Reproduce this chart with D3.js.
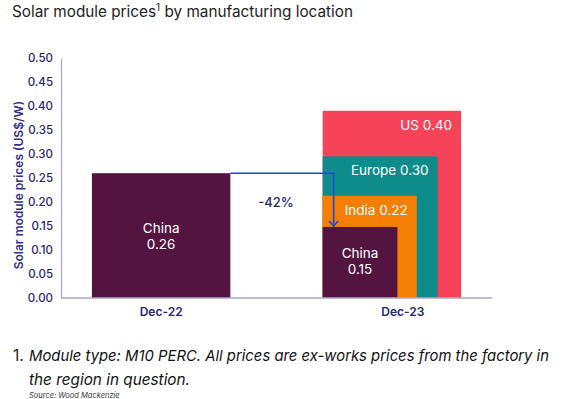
<!DOCTYPE html>
<html><head><meta charset="utf-8">
<script src="https://cdn.jsdelivr.net/npm/d3@7"></script>
<style>
body{margin:0;background:#fff;}
svg{display:block;font-family:Inter, "Open Sans", sans-serif;}
</style></head>
<body><svg id="c" width="562" height="399"></svg>
<script>
const periods = ["Dec-22", "Dec-23"];
const dec22Regions = ["China"];
const dec22Values = [0.26];
const dec22Labels = ["0.26"];
const dec23Regions = ["US", "Europe", "India", "China"];
const dec23Values = [0.39, 0.295, 0.213, 0.148];
const dec23Labels = ["0.40", "0.30", "0.22", "0.15"];
const widthFractions = [1, 0.83, 0.68, 0.54];
const yTicks = [0, 0.05, 0.1, 0.15, 0.2, 0.25, 0.3, 0.35, 0.4, 0.45, 0.5];
const changeLabel = "-42%";
const colors = {China: "#541440", US: "#f7435a", Europe: "#0e8c8c", India: "#f57f05"};

const svg = d3.select("#c");
const navy = "#262673";
const x = d3.scaleBand().domain(periods).range([61, 492]).paddingInner(0.4).paddingOuter(0.134);
const y = d3.scaleLinear().domain([0, 0.5]).range([298, 58]);

// title
const t = svg.append("text").attr("x", 12).attr("y", 17).attr("font-size", 15.3).attr("fill", "#222");
t.append("tspan").text("Solar module prices");
t.append("tspan").text("1").attr("font-size", 10).attr("dy", -6);
t.append("tspan").text(" by manufacturing location").attr("dy", 6);

// y axis
const ya = svg.append("g").attr("transform", "translate(61,0)")
  .call(d3.axisLeft(y).tickValues(yTicks).tickFormat(d3.format(".2f")).tickSize(0).tickPadding(8));
ya.select(".domain").attr("stroke", "#a8a6cc").attr("stroke-width", 1.3);
ya.selectAll("text").attr("font-size", 11.5).attr("font-weight", 500).attr("fill", navy).attr("font-family", "Inter, sans-serif");

svg.append("text").attr("transform", "translate(23,185) rotate(-90)").attr("text-anchor", "middle")
  .attr("font-size", 12).attr("font-weight", 600).attr("fill", "#30308a").text("Solar module prices  (US$/W)");

// bars Dec-22
const bw = x.bandwidth();
dec22Regions.forEach((r, i) => {
  svg.append("rect").attr("x", x("Dec-22")).attr("width", bw)
    .attr("y", y(dec22Values[i])).attr("height", y(0) - y(dec22Values[i])).attr("fill", colors[r]);
  const cx = x("Dec-22") + bw / 2;
  svg.append("text").attr("x", cx).attr("y", 233).attr("text-anchor", "middle").attr("fill", "#fff").attr("font-size", 13.5).text(r);
  svg.append("text").attr("x", cx).attr("y", 249).attr("text-anchor", "middle").attr("fill", "#fff").attr("font-size", 13.5).text(dec22Labels[i]);
});

// bars Dec-23
dec23Regions.forEach((r, i) => {
  svg.append("rect").attr("x", x("Dec-23")).attr("width", bw * widthFractions[i])
    .attr("y", y(dec23Values[i])).attr("height", y(0) - y(dec23Values[i])).attr("fill", colors[r]);
});
dec23Regions.forEach((r, i) => {
  const x0 = x("Dec-23"), w = bw * widthFractions[i];
  if (r === "China") {
    const cx = x0 + w / 2;
    svg.append("text").attr("x", cx).attr("y", 258).attr("text-anchor", "middle").attr("fill", "#fff").attr("font-size", 13.5).text(r);
    svg.append("text").attr("x", cx).attr("y", 274).attr("text-anchor", "middle").attr("fill", "#fff").attr("font-size", 13.5).text(dec23Labels[i]);
  } else {
    svg.append("text").attr("x", x0 + w - 9).attr("y", y(dec23Values[i]) + 19).attr("text-anchor", "end")
      .attr("fill", "#fff").attr("font-size", 13.5).text(r + " " + dec23Labels[i]);
  }
});

// baseline
svg.append("line").attr("x1", 61).attr("x2", 492).attr("y1", y(0)).attr("y2", y(0)).attr("stroke", "#a8a6cc").attr("stroke-width", 1.3);

// x labels
svg.append("text").attr("x", x("Dec-22") + bw / 2).attr("y", 316).attr("text-anchor", "middle")
  .attr("font-size", 12).attr("font-weight", 600).attr("fill", navy).text(periods[0]);
svg.append("text").attr("x", x("Dec-23") + bw / 2 + 11).attr("y", 316).attr("text-anchor", "middle")
  .attr("font-size", 12).attr("font-weight", 600).attr("fill", navy).text(periods[1]);

// arrow
const ax = x("Dec-23") + 11;
const ay0 = y(dec22Values[0]), ay1 = y(dec23Values[3]);
svg.append("path").attr("d", `M${x("Dec-22") + bw},${ay0}H${ax}V${ay1 - 1}`).attr("fill", "none").attr("stroke", "#1f47e0").attr("stroke-width", 1.6);
svg.append("path").attr("d", `M${ax - 4.5},${ay1 - 6}L${ax},${ay1 - 1}L${ax + 4.5},${ay1 - 6}`).attr("fill", "none").attr("stroke", "#1f47e0").attr("stroke-width", 1.6);
svg.append("text").attr("x", 276).attr("y", 207).attr("text-anchor", "middle").attr("font-size", 13).attr("font-weight", 500).attr("fill", navy).text(changeLabel);

// footnote
svg.append("text").attr("x", 13).attr("y", 361).attr("font-size", 15.5).attr("fill", "#222").text("1.");
svg.append("text").attr("x", 29).attr("y", 361).attr("font-size", 15).attr("font-style", "italic").attr("fill", "#111")
  .attr("textLength", 520).attr("lengthAdjust", "spacingAndGlyphs")
  .text("Module type: M10 PERC. All prices are ex-works prices from the factory in");
svg.append("text").attr("x", 29).attr("y", 385).attr("font-size", 15.5).attr("font-style", "italic").attr("fill", "#111")
  .attr("textLength", 161).attr("lengthAdjust", "spacingAndGlyphs")
  .text("the region in question.");
svg.append("text").attr("x", 29).attr("y", 397.5).attr("font-size", 7.5).attr("font-style", "italic").attr("fill", "#333")
  .text("Source: Wood Mackenzie");
</script></body></html>
